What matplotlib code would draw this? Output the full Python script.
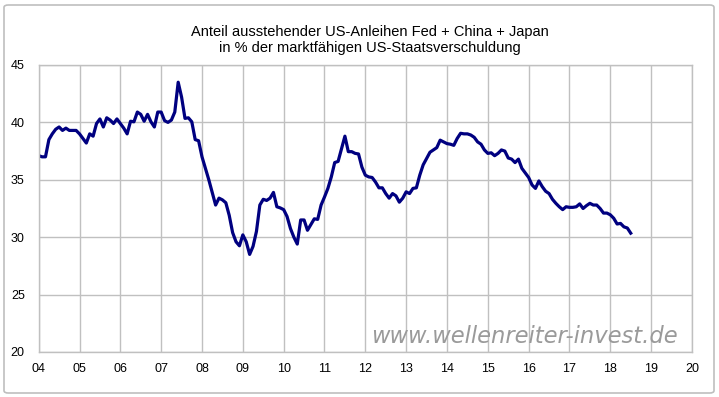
import numpy as np
import matplotlib
matplotlib.use("Agg")
import matplotlib.pyplot as plt
from matplotlib.patches import FancyBboxPatch

plt.rcParams['font.family'] = ['Liberation Sans', 'DejaVu Sans']

# monthly share in %, Jan 2004 .. Jul 2018
vals_2004 = [37.1, 37.0, 37.0, 38.5, 39.0, 39.4, 39.6, 39.3, 39.5, 39.3, 39.3, 39.3]
vals_2005 = [39.0, 38.6, 38.2, 39.0, 38.8, 39.9, 40.3, 39.6, 40.4, 40.2, 39.9, 40.3]
vals_2006 = [39.9, 39.5, 39.0, 40.1, 40.05, 40.9, 40.7, 40.1, 40.7, 40.05, 39.6, 40.9]
vals_2007 = [40.9, 40.15, 40.0, 40.2, 40.9, 43.5, 42.2, 40.35, 40.4, 40.05, 38.5, 38.4]
vals_2008 = [37.0, 36.0, 35.0, 33.9, 32.8, 33.4, 33.25, 33.0, 31.9, 30.4, 29.6, 29.25]
vals_2009 = [30.2, 29.6, 28.5, 29.2, 30.5, 32.8, 33.3, 33.2, 33.4, 33.9, 32.65, 32.55]
vals_2010 = [32.4, 31.8, 30.75, 30.0, 29.4, 31.5, 31.5, 30.6, 31.1, 31.6, 31.55, 32.8]
vals_2011 = [33.5, 34.25, 35.25, 36.5, 36.6, 37.7, 38.8, 37.45, 37.45, 37.3, 37.25, 36.1]
vals_2012 = [35.4, 35.25, 35.2, 34.8, 34.3, 34.3, 33.8, 33.4, 33.8, 33.6, 33.05, 33.4]
vals_2013 = [33.95, 33.8, 34.25, 34.3, 35.4, 36.3, 36.85, 37.4, 37.6, 37.8, 38.45, 38.3]
vals_2014 = [38.15, 38.1, 38.0, 38.6, 39.05, 39.0, 39.0, 38.9, 38.7, 38.3, 38.1, 37.6]
vals_2015 = [37.3, 37.35, 37.1, 37.3, 37.6, 37.5, 36.9, 36.8, 36.5, 36.8, 36.0, 35.6]
vals_2016 = [35.2, 34.55, 34.25, 34.9, 34.4, 34.0, 33.8, 33.3, 32.95, 32.65, 32.4, 32.65]
vals_2017 = [32.6, 32.6, 32.65, 32.9, 32.5, 32.75, 32.95, 32.8, 32.8, 32.5, 32.1, 32.1]
vals_2018 = [31.95, 31.65, 31.15, 31.2, 30.9, 30.8, 30.35]

share = np.array(vals_2004 + vals_2005 + vals_2006 + vals_2007 + vals_2008 +
                 vals_2009 + vals_2010 + vals_2011 + vals_2012 + vals_2013 +
                 vals_2014 + vals_2015 + vals_2016 + vals_2017 + vals_2018)
t = 2004 + np.arange(len(share)) / 12.0

years = list(range(2004, 2021))
year_labels = ["%02d" % (y % 100) for y in years]
y_ticks = [20, 25, 30, 35, 40, 45]

fig = plt.figure(figsize=(7.19, 3.97), dpi=100)
fig.patch.set_facecolor('white')

# rounded outer frame
frame = FancyBboxPatch((4 / 719, 4 / 397), 710 / 719, 388 / 397,
                       boxstyle="round,pad=0,rounding_size=0.006",
                       transform=fig.transFigure, facecolor='none',
                       edgecolor='#bfbfbf', linewidth=1.2)
fig.patches.append(frame)

ax = fig.add_axes([0.0538, 0.1134, 0.9086, 0.7229])
ax.plot(t, share, color='#000080', linewidth=2.3, solid_joinstyle='round')

ax.set_xlim(2004, 2020)
ax.set_ylim(20, 45)
ax.set_xticks(years)
ax.set_xticklabels(year_labels)
ax.set_yticks(y_ticks)
ax.grid(True, color='#c0c0c0', linewidth=1.0)
ax.set_axisbelow(True)
for s in ax.spines.values():
    s.set_color('#c0c0c0')
    s.set_linewidth(1.0)
ax.tick_params(length=0, labelsize=9, colors='black', pad=8)
ax.tick_params(axis='y', pad=10)

fig.text(0.515, 0.900, "Anteil ausstehender US-Anleihen Fed + China + Japan\n"
         "in % der marktfähigen US-Staatsverschuldung",
         ha='center', va='center', fontsize=10.5, linespacing=1.15)

ax.text(0.744, 0.055, "www.wellenreiter-invest.de", transform=ax.transAxes,
        ha='center', va='center', fontsize=16.3, style='italic',
        color='#9a9a9a', family=['DejaVu Sans'])

fig.savefig("out.png", dpi=100)
